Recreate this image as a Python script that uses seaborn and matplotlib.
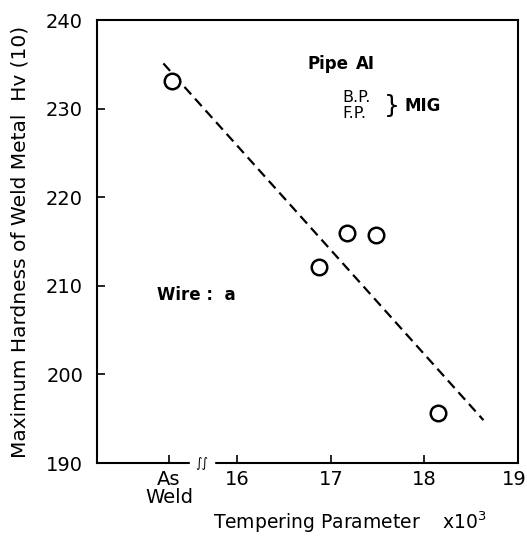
import matplotlib
matplotlib.use("Agg")
import matplotlib.pyplot as plt
import matplotlib.transforms as mtrans
import seaborn as sns
import pandas as pd

# Data
tp_x = [15.30, 16.87, 17.17, 17.48, 18.14]      # tempering parameter (x10^3); 15.30 ~ "As Weld"
hv_y = [233.1, 212.1, 216.0, 215.7, 195.7]      # max hardness Hv(10)
fit_x = [15.21, 18.63]
fit_y = [235.1, 194.85]
x_ticks = [15.27, 16, 17, 18, 19]
x_tick_labels = ["As\nWeld", "16", "17", "18", "19"]
y_ticks = [190, 200, 210, 220, 230, 240]

sns.set_theme(style="ticks")
plt.rcParams["font.family"] = ["DejaVu Sans"]
plt.rcParams["text.color"] = "black"
plt.rcParams["axes.labelcolor"] = "black"

fig = plt.figure(figsize=(5.27, 5.41), dpi=100)
ax = fig.add_axes([0.184, 0.144, 0.799, 0.819])

pts = pd.DataFrame({"x": tp_x, "y": hv_y})
fit = pd.DataFrame({"x": fit_x, "y": fit_y})

sns.lineplot(data=fit, x="x", y="y", ax=ax, color="black", linestyle=(0, (4.5, 2.6)),
             linewidth=1.6)
sns.scatterplot(data=pts, x="x", y="y", ax=ax, s=125, facecolor="white",
                edgecolor="black", linewidth=1.8, marker="o", zorder=3)

ax.set_xlim(14.5, 19)
ax.set_ylim(190, 240)
ax.set_xticks(x_ticks)
ax.set_xticklabels(x_tick_labels, fontsize=14, linespacing=0.9)
ax.set_yticks(y_ticks)
ax.set_yticklabels([str(v) for v in y_ticks], fontsize=14)
ax.tick_params(axis="both", direction="in", length=6, width=1.2, colors="black")
ax.tick_params(axis="y", pad=10)
ax.tick_params(axis="x", pad=5)
for s in ax.spines.values():
    s.set_color("black")
    s.set_linewidth(1.5)

# keep the last x tick label inside the figure
lbls = ax.get_xticklabels()
lbls[-1].set_transform(lbls[-1].get_transform() +
                       mtrans.ScaledTranslation(-4 / 100, 0, fig.dpi_scale_trans))

ax.set_xlabel("Tempering Parameter    x10$^3$", fontsize=13.5)
ax.xaxis.set_label_coords(0.6, -0.105)
ax.set_ylabel("Maximum Hardness of Weld Metal  Hv (10)", fontsize=14.5)
ax.yaxis.set_label_coords(-0.16, 0.5)

# axis break mark
ax.text(15.62, 190, "\u222b\u222b", fontsize=9, ha="center", va="center",
        style="italic", backgroundcolor="white")

# annotations
ax.text(16.75, 235.0, "Pipe", fontsize=12, fontweight="bold", ha="left", va="center")
ax.text(17.27, 235.0, "AI", fontsize=12, fontweight="bold", ha="left", va="center")
ax.text(17.12, 231.2, "B.P.", fontsize=11.5, ha="left", va="center")
ax.text(17.12, 229.5, "F.P.", fontsize=11.5, ha="left", va="center")
ax.text(17.57, 230.3, "}", fontsize=18, ha="left", va="center")
ax.text(17.79, 230.3, "MIG", fontsize=12, fontweight="bold", ha="left", va="center")
ax.text(15.14, 209.0, "Wire :  a", fontsize=12, fontweight="bold", ha="left", va="center")

fig.savefig("out.png", dpi=100)
